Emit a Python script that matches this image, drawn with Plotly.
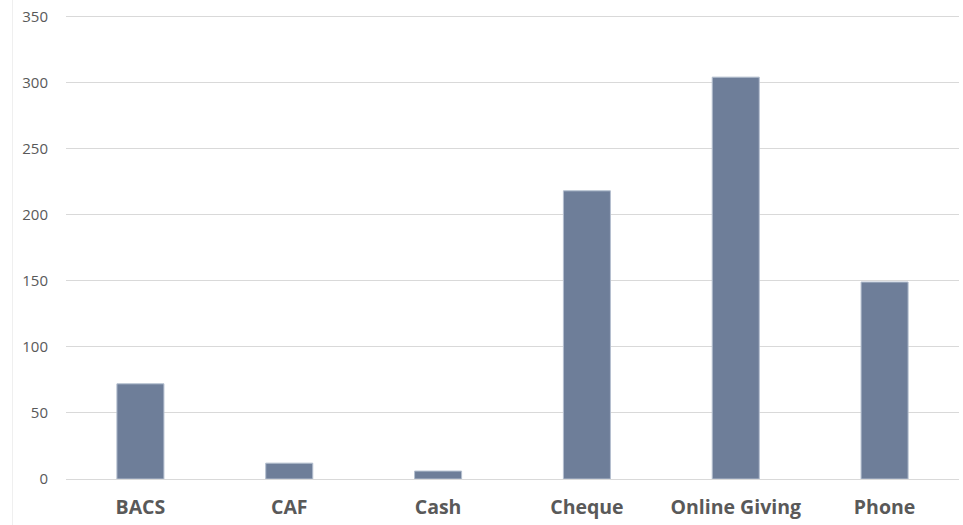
import plotly.graph_objects as go

categories = ["BACS", "CAF", "Cash", "Cheque", "Online Giving", "Phone"]
values = [72, 12, 6, 218, 304, 149]
y_ticks = [0, 50, 100, 150, 200, 250, 300, 350]

fig = go.Figure(
    go.Bar(
        x=categories,
        y=values,
        marker=dict(color="#6E7E99", line=dict(color="#B4BFCF", width=1)),
        hoverinfo="x+y",
    )
)

fig.update_layout(
    width=963,
    height=525,
    margin=dict(l=66, r=4, t=15, b=46),
    paper_bgcolor="white",
    plot_bgcolor="white",
    bargap=0.684,
    showlegend=False,
    font=dict(family="Open Sans", color="#595959"),
    shapes=[
        dict(type="line", xref="paper", yref="paper", x0=-0.0599, x1=-0.0599, y0=-0.1, y1=1.04,
             line=dict(color="#EFEFEF", width=1)),
    ],
)

fig.update_xaxes(
    showgrid=False,
    showline=False,
    ticks="",
    tickfont=dict(size=19.5, color="#595959", family="Open Sans", weight="bold"),
    ticklabelstandoff=14,
)

fig.update_yaxes(
    range=[0, 351],
    tickvals=y_ticks,
    showgrid=True,
    gridcolor="#D9D9D9",
    gridwidth=1,
    zeroline=True,
    zerolinecolor="#D9D9D9",
    zerolinewidth=1,
    showline=False,
    ticks="",
    tickfont=dict(size=15, color="#595959", family="Open Sans"),
    ticklabelstandoff=17,
)

fig.write_html(
    "out.html",
    config={"displayModeBar": False},
    post_script="document.body.style.margin='0';document.body.style.padding='0';",
)
